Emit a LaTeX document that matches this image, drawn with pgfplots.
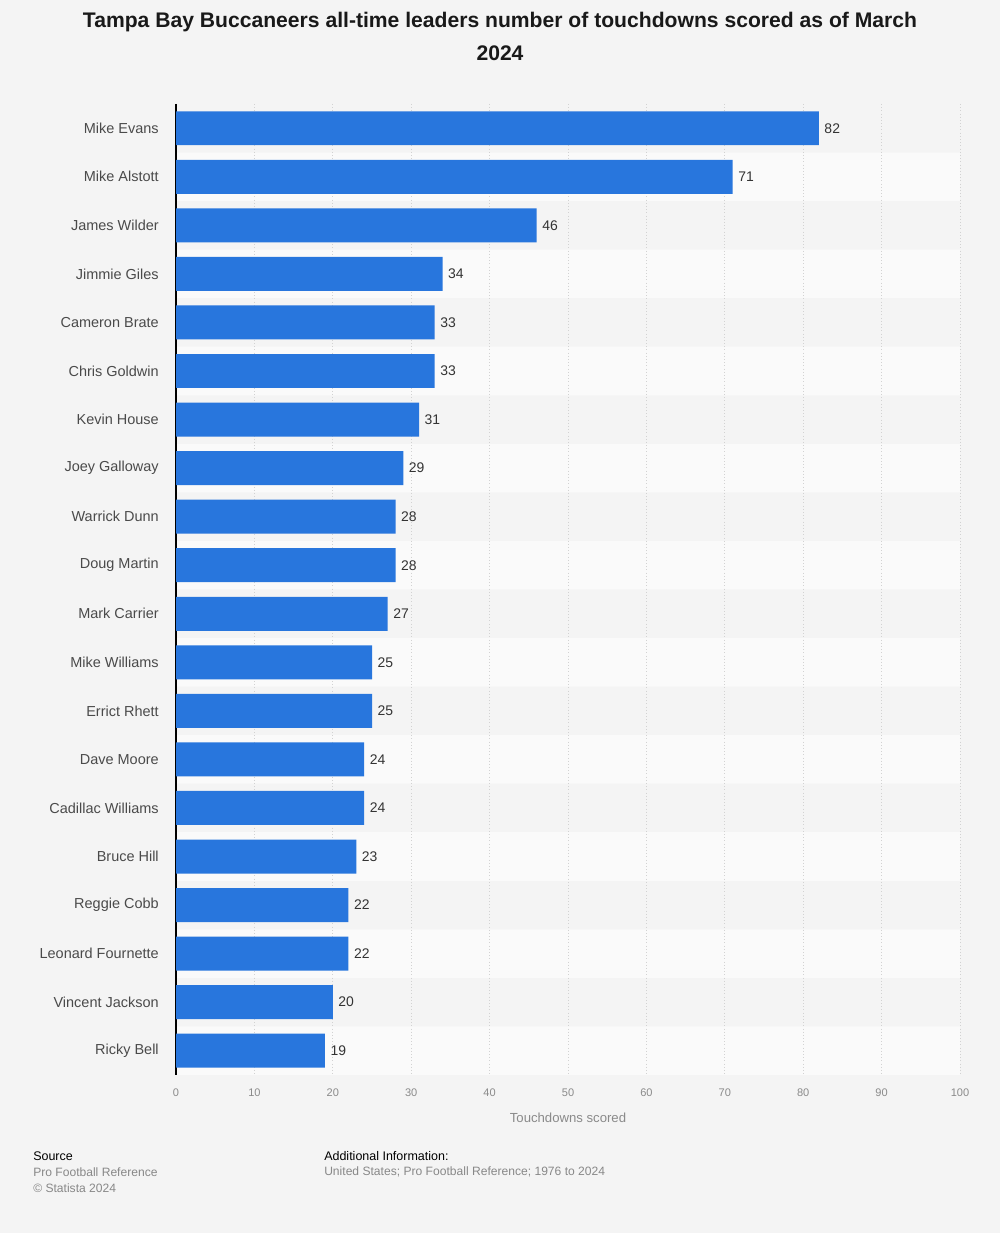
\documentclass[border=0pt]{standalone}
\usepackage{pgfplots}
\pgfplotsset{compat=1.18}
\usepackage{fontspec}
\setmainfont{Liberation Sans}
\definecolor{bg}{HTML}{F4F4F4}
\definecolor{band}{HTML}{FAFAFA}
\definecolor{barblue}{HTML}{2876DD}
\definecolor{lbl}{HTML}{4A4A4A}
\definecolor{val}{HTML}{333333}
\definecolor{tick}{HTML}{8A8A8A}
\definecolor{foot}{HTML}{888888}
\definecolor{gridc}{HTML}{D2D2D2}
\pagecolor{bg}
\begin{document}
\begin{tikzpicture}[x=0.75bp,y=0.75bp]
\path (0,0) rectangle (1000,1233);
\node[font=\fontsize{15.9}{19}\selectfont\bfseries, text=black!90, align=center] at (500,1211) {Tampa Bay Buccaneers all-time leaders number of touchdowns scored as of March};
\node[font=\fontsize{15.9}{19}\selectfont\bfseries, text=black!90, align=center] at (500,1180) {2024};
\begin{axis}[
  at={(132bp,118.5bp)}, anchor=south west,
  width=588bp, height=728.25bp, scale only axis,
  set layers,
  xmin=0, xmax=100, ymin=-0.5, ymax=19.5,
  y dir=reverse,
  axis y line*=left, axis x line*=bottom,
  x axis line style={draw=none},
  y axis line style={draw=black, line width=0.9bp},
  xtick={0,10,...,100},
  ytick={0,...,19},
  yticklabels={Mike Evans,Mike Alstott,James Wilder,Jimmie Giles,Cameron Brate,Chris Goldwin,Kevin House,Joey Galloway,Warrick Dunn,Doug Martin,Mark Carrier,Mike Williams,Errict Rhett,Dave Moore,Cadillac Williams,Bruce Hill,Reggie Cobb,Leonard Fournette,Vincent Jackson,Ricky Bell},
  major tick length=0pt,
  xmajorgrids,
  major grid style={dotted, gridc, line width=0.6bp},
  yticklabel style={font=\fontsize{10.9}{12}\selectfont, text=lbl, anchor=east, inner sep=0pt, xshift=-12.75bp},
  xticklabel style={font=\fontsize{8.3}{10}\selectfont, text=tick, anchor=north, inner sep=0pt, yshift=-10.5bp},
  /pgf/number format/assume math mode=true,
  clip=false,
]
\addplot[xbar, bar shift=0pt, bar width=1, fill=band, draw=none, on layer=axis background]
  coordinates {(100,1) (100,3) (100,5) (100,7) (100,9) (100,11) (100,13) (100,15) (100,17) (100,19)};
\addplot[xbar, bar shift=0pt, bar width=0.7, fill=barblue, draw=none,
  nodes near coords,
  every node near coord/.append style={font=\fontsize{10.5}{12}\selectfont, text=val, anchor=west, inner sep=0pt, xshift=4bp},
  /pgf/number format/assume math mode=true]
  coordinates {(82,0) (71,1) (46,2) (34,3) (33,4) (33,5) (31,6) (29,7) (28,8) (28,9) (27,10) (25,11) (25,12) (24,13) (24,14) (23,15) (22,16) (22,17) (20,18) (19,19)};
\end{axis}
\node[font=\fontsize{9.9}{12}\selectfont, text=tick] at (568,115) {Touchdowns scored};
\node[font=\fontsize{9.4}{11}\selectfont, text=black, anchor=west, inner sep=0pt] at (33,77) {Source};
\node[font=\fontsize{9.1}{11}\selectfont, text=foot, anchor=west, inner sep=0pt] at (33,61) {Pro Football Reference};
\node[font=\fontsize{9.1}{11}\selectfont, text=foot, anchor=west, inner sep=0pt] at (33,45) {\textcopyright\ Statista 2024};
\node[font=\fontsize{9.4}{11}\selectfont, text=black, anchor=west, inner sep=0pt] at (324,77) {Additional Information:};
\node[font=\fontsize{9.1}{11}\selectfont, text=foot, anchor=west, inner sep=0pt] at (324,61) {United States; Pro Football Reference; 1976 to 2024};
\end{tikzpicture}
\end{document}
